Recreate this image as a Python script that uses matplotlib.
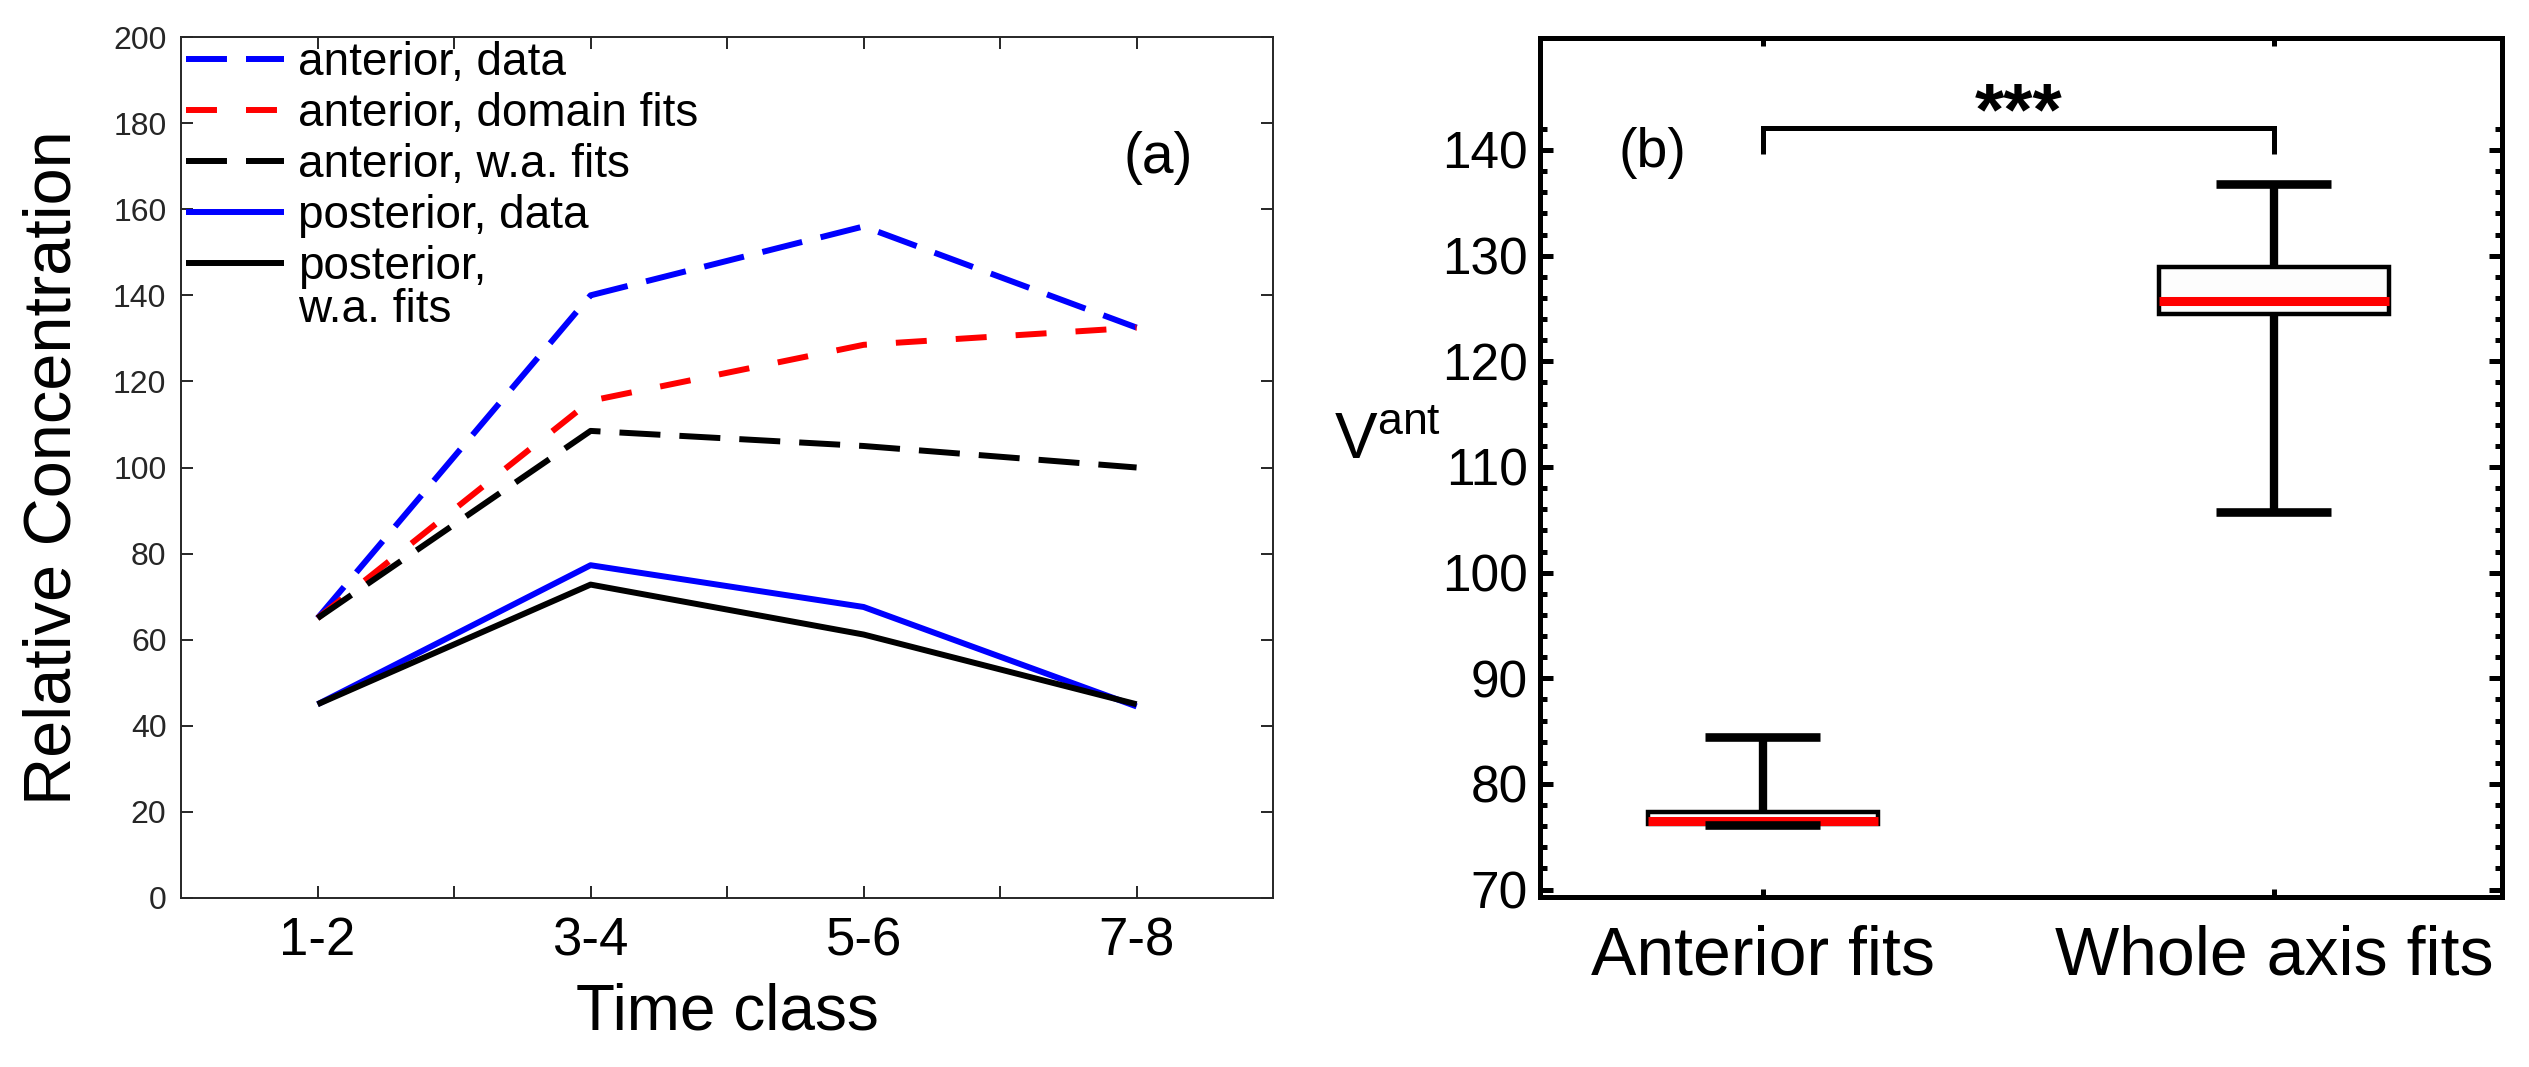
import matplotlib
matplotlib.use("Agg")
import matplotlib.pyplot as plt
from matplotlib.ticker import FixedLocator

plt.rcParams['font.family'] = ['Liberation Sans', 'DejaVu Sans']
plt.rcParams['mathtext.fontset'] = 'custom'
plt.rcParams['mathtext.rm'] = 'Liberation Sans'
plt.rcParams['lines.scale_dashes'] = False
plt.rcParams['lines.solid_capstyle'] = 'butt'

# panel (a): relative concentration per time class
time_classes = ['1-2', '3-4', '5-6', '7-8']
ant_data = [65, 140, 156, 132.5]
ant_domain = [65, 115.5, 128.5, 132.5]
ant_wa = [65, 108.5, 105, 100]
post_data = [45, 77.3, 67.6, 44.5]
post_wa = [45, 72.8, 61.2, 45]

# panel (b): box plot summary of V_ant
groups = ['Anterior fits', 'Whole axis fits']
whisker_lo = [76.1, 105.7]
q1 = [76.2, 124.5]
med = [76.5, 125.7]
q3 = [77.3, 128.9]
whisker_hi = [84.4, 136.8]
bracket_y = 142.1
bracket_drop = 2.5
stars_y = 143.3

fig = plt.figure(figsize=(25.29, 10.67), dpi=100)
ax1 = fig.add_axes([0.0716, 0.1584, 0.4318, 0.8069])
ax2 = fig.add_axes([0.6089, 0.1593, 0.3804, 0.8051])

# ---- panel (a)
x = range(1, len(time_classes) + 1)
lw = 4.3
long_dash = (0, (29.5, 13.7))
short_dash = (0, (22.3, 20.9))
ax1.plot(x, ant_data, color='#0000ff', lw=lw, linestyle=long_dash, label='anterior, data')
ax1.plot(x, ant_domain, color='#ff0000', lw=lw, linestyle=short_dash, label='anterior, domain fits')
ax1.plot(x, ant_wa, color='black', lw=lw, linestyle=long_dash, label='anterior, w.a. fits')
ax1.plot(x, post_data, color='#0000ff', lw=lw, label='posterior, data')
ax1.plot(x, post_wa, color='black', lw=lw, label='posterior,')

ax1.set_xlim(0.5, 4.5)
ax1.set_ylim(0, 200)
ax1.set_xticks(list(x))
ax1.set_xticklabels(time_classes)
ax1.xaxis.set_minor_locator(FixedLocator([1.5, 2.5, 3.5]))
ax1.set_yticks(range(0, 201, 20))
ax1.tick_params(axis='both', which='both', direction='in', top=True, right=True,
                length=8.6, width=1.4, color='#262626')
ax1.tick_params(axis='x', labelsize=38, pad=13)
ax1.tick_params(axis='y', labelsize=23, pad=10.5, labelcolor='#262626')
for s in ax1.spines.values():
    s.set_linewidth(1.4)
    s.set_color('#262626')

ax1.set_xlabel('Time class', fontsize=46)
ax1.xaxis.set_label_coords(0.5, -0.098)
ax1.set_ylabel('Relative Concentration', fontsize=48)
ax1.yaxis.set_label_coords(-0.088, 0.5)

leg = ax1.legend(loc='upper left', bbox_to_anchor=(0.0046, 0.995), frameon=False,
                 fontsize=33, handlelength=2.14, handletextpad=0.3,
                 labelspacing=0.15, borderpad=0, borderaxespad=0)
ax1.text(0.107, 0.669, 'w.a. fits', transform=ax1.transAxes, fontsize=33,
         ha='left', va='baseline')
ax1.text(4.08, 172, '(a)', fontsize=41, ha='center', va='center')

# ---- panel (b)
stats = []
for i in range(len(groups)):
    stats.append(dict(label=groups[i], whislo=whisker_lo[i], q1=q1[i], med=med[i],
                      q3=q3[i], whishi=whisker_hi[i], fliers=[]))
ax2.bxp(stats, positions=[1, 2], widths=0.45, capwidths=0.225, patch_artist=True,
        boxprops=dict(facecolor='#fdfdfd', edgecolor='black', linewidth=3.2, zorder=2),
        whiskerprops=dict(color='black', linewidth=6, zorder=2.5),
        capprops=dict(color='black', linewidth=6.2, zorder=4),
        medianprops=dict(color='#ff0000', linewidth=6.5, zorder=3))

ax2.plot([1, 1, 2, 2], [bracket_y - bracket_drop, bracket_y, bracket_y, bracket_y - bracket_drop],
         color='black', lw=3.6, solid_joinstyle='miter')
ax2.text(1.5, stars_y, '***', fontsize=54, fontweight='bold', ha='center', va='center')
ax2.text(0.785, 139.7, '(b)', fontsize=40, ha='center', va='center')

ax2.set_xlim(0.564, 2.446)
ax2.set_ylim(69.3, 150.6)
ax2.set_xticks([1, 2])
ax2.set_xticklabels(groups)
ax2.set_yticks(range(70, 141, 10))
ax2.yaxis.set_minor_locator(FixedLocator([v for v in range(70, 143, 2) if v % 10]))
ax2.tick_params(axis='both', which='both', direction='in', top=True, right=True,
                color='black', width=3.6)
ax2.tick_params(axis='y', which='major', length=9.4, labelsize=37, pad=8.6)
ax2.tick_params(axis='y', which='minor', length=5)
ax2.tick_params(axis='x', which='major', length=5.8, labelsize=49, pad=20)
for s in ax2.spines.values():
    s.set_linewidth(3.6)
ax2.set_ylabel(r'$\mathregular{V^{ant}}$', fontsize=46, rotation=0, ha='center', va='baseline')
ax2.yaxis.set_label_coords(-0.158, 0.51)

fig.savefig('out.png', dpi=100)
